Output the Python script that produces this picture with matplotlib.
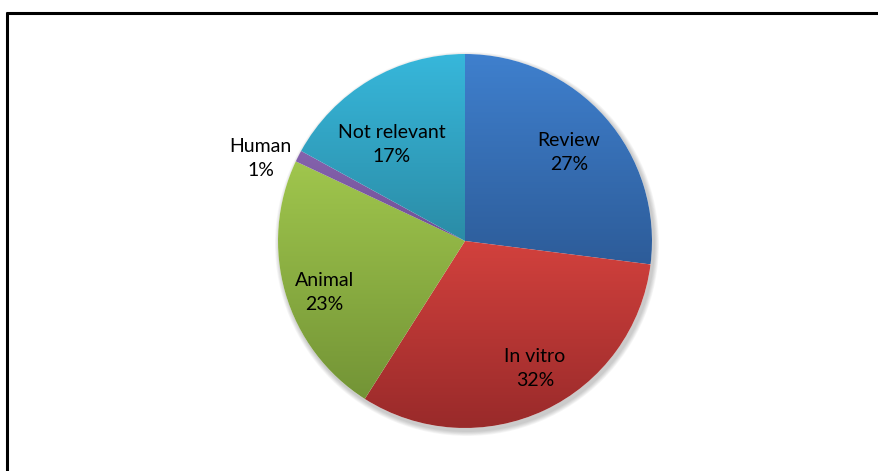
import numpy as np
import matplotlib.pyplot as plt
from matplotlib.colors import LinearSegmentedColormap
from matplotlib.lines import Line2D

# chart data
categories = ['Review', 'In vitro', 'Animal', 'Human', 'Not relevant']
shares = [27, 32, 23, 1, 17]
pct_labels = ['27%', '32%', '23%', '1%', '17%']

# light (top) / dark (bottom) colour of each slice
top_cols = ['#3f80ce', '#d2413d', '#a0c64d', '#8563ad', '#37b7db']
bot_cols = ['#2d5c99', '#992a2a', '#739436', '#6f4f96', '#2b8ca6']
# label placement: fraction of radius and angle nudge (deg)
label_dist = [0.73, 0.78, 0.80, 1.18, 0.65]
label_nudge = [-1, 3.5, 4, 5, 6.5]

W, H = 879, 471
CX, CY, R = 465, H - 241, 187

plt.rcParams['font.family'] = ['Lato', 'DejaVu Sans']
fig = plt.figure(figsize=(W / 100, H / 100), dpi=100)
ax = fig.add_axes([0, 0, 1, 1])

# soft shadow under the pie
for k in range(6):
    sh = plt.Circle((CX + 2, CY - 3), R + 1 + k * 0.8, color='black',
                    alpha=0.035, lw=0, zorder=0)
    ax.add_patch(sh)
ax.add_patch(plt.Circle((CX, CY), R, color='white', lw=0, zorder=0.5))

wedges, _ = ax.pie(shares, center=(CX, CY), radius=R, startangle=90,
                   counterclock=False, frame=True,
                   wedgeprops=dict(linewidth=0))
ax.set_aspect('equal')
ax.axis('off')

for w, c0, c1, name, pct, d, nd in zip(wedges, top_cols, bot_cols, categories,
                                        pct_labels, label_dist, label_nudge):
    th1, th2 = np.deg2rad(w.theta1), np.deg2rad(w.theta2)
    ts = np.linspace(th1, th2, 100)
    ys = np.concatenate([[CY], CY + R * np.sin(ts)])
    cmap = LinearSegmentedColormap.from_list(name, [c1, c0])
    grad = np.linspace(0, 1, 256).reshape(-1, 1)
    im = ax.imshow(grad, cmap=cmap, origin='lower', aspect='auto',
                   extent=[CX - R, CX + R, ys.min(), ys.max()],
                   zorder=1, interpolation='bilinear')
    w.set_facecolor('none')
    im.set_clip_path(w)
    mid = (th1 + th2) / 2 + np.deg2rad(nd)
    ax.text(CX + d * R * np.cos(mid), CY + d * R * np.sin(mid),
            name + '\n' + pct, ha='center', va='center', fontsize=14,
            color='black', linespacing=1.5, zorder=3)

ax.set_xlim(0, W)
ax.set_ylim(0, H)

# chart frame (only top and left edges are inside the picture)
fig.add_artist(Line2D([7.5 / W, 7.5 / W], [0, 1 - 12 / H], transform=fig.transFigure,
                      color='black', lw=2.2, solid_capstyle='butt'))
fig.add_artist(Line2D([6.4 / W, 1], [1 - 12.5 / H, 1 - 12.5 / H], transform=fig.transFigure,
                      color='black', lw=2.2, solid_capstyle='butt'))

fig.savefig('out.png', dpi=100, facecolor='white')
